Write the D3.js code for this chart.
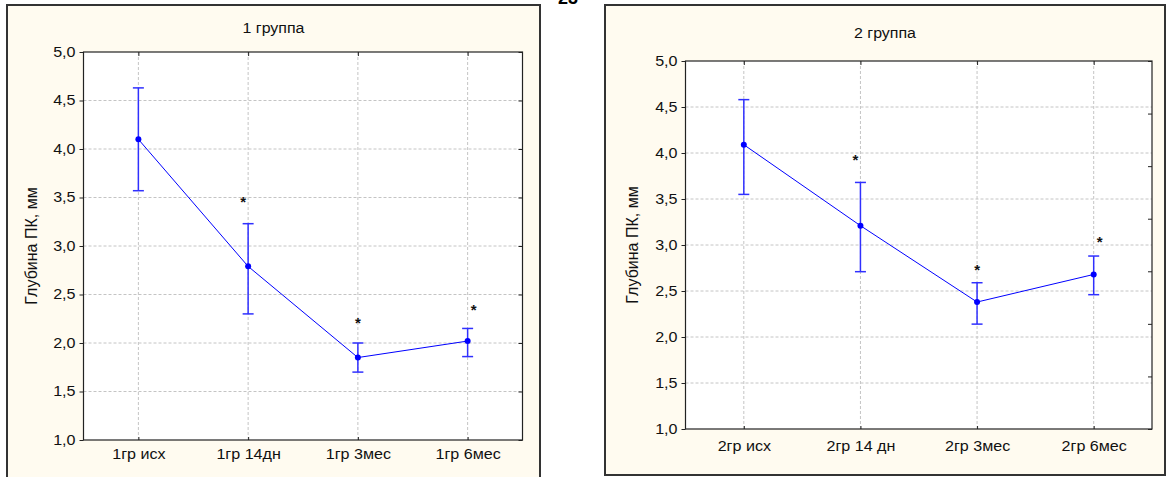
<!DOCTYPE html>
<html>

<head>
    <meta charset="utf-8">
    <title></title>
    <style>
        body { margin: 0; background: #fff; }
        svg { display: block; font-family: "Liberation Sans", Arial, sans-serif; }
    </style>
</head>

<body>
    <script src="https://d3js.org/d3.v7.min.js"></script>
    <script>

    // data
    var categories1 = ["1гр исх", "1гр 14дн", "1гр 3мес", "1гр 6мес"];
    var means1 = [4.10, 2.79, 1.85, 2.02];
    var upper1 = [4.63, 3.23, 2.00, 2.15];
    var lower1 = [3.57, 2.30, 1.70, 1.86];
    var stars1 = [null, 3.49, 2.25, 2.38];

    var categories2 = ["2гр исх", "2гр 14 дн", "2гр 3мес", "2гр 6мес"];
    var means2 = [4.09, 3.21, 2.38, 2.68];
    var upper2 = [4.58, 3.68, 2.59, 2.88];
    var lower2 = [3.55, 2.71, 2.14, 2.46];
    var stars2 = [null, 3.97, 2.77, 3.08];

    var yTicks = [1.0, 1.5, 2.0, 2.5, 3.0, 3.5, 4.0, 4.5, 5.0];
    var yDomain = [1, 5];
    var yLabel = "Глубина ПК, мм";
    var pageNumber = "23";

    var W = 1169, H = 477;
    var fmt = function(d) { return d.toFixed(1).replace(".", ","); };

    // the reference text is a little stretched sideways
    function stretch(sel, k) {
        sel.each(function() {
            var len = this.getComputedTextLength();
            d3.select(this)
                .attr("textLength", len * k)
                .attr("lengthAdjust", "spacingAndGlyphs");
        });
    }

    var svg = d3.select("body")
        .append("svg")
        .attr("width", W)
        .attr("height", H);

    // page number, mostly cut off at the top
    svg.append("text")
        .attr("x", 568)
        .attr("y", 4)
        .attr("text-anchor", "middle")
        .style("font-size", "18px")
        .style("font-weight", "bold")
        .text(pageNumber);

    var panels = [
        { title: "1 группа", cats: categories1, means: means1, upper: upper1, lower: lower1, stars: stars1,
          frame: [7, 5, 533, 480], plot: [83.5, 52, 522.5, 440], titleY: 33, labelX: 31, labelPad: 9.5, rightTicks: 0 },
        { title: "2 группа", cats: categories2, means: means2, upper: upper2, lower: lower2, stars: stars2,
          frame: [605, 5, 560, 470], plot: [685.5, 61, 1152, 429], titleY: 37.5, labelX: 632, labelPad: 12.5, rightTicks: 7 }
    ];
    var starDx = [0, -5, 0, 6];

    panels.forEach(function(p) {
        var left = p.plot[0], top = p.plot[1], right = p.plot[2], bottom = p.plot[3];
        var g = svg.append("g");

        // outer frame
        g.append("rect")
            .attr("x", p.frame[0])
            .attr("y", p.frame[1])
            .attr("width", p.frame[2])
            .attr("height", p.frame[3])
            .style("fill", "#fffbf0")
            .style("stroke", "#333")
            .style("stroke-width", 2);

        g.append("text")
            .attr("x", p.frame[0] + p.frame[2] / 2)
            .attr("y", p.titleY)
            .attr("text-anchor", "middle")
            .style("font-size", "14px")
            .style("fill", "#111")
            .text(p.title)
            .call(stretch, 1.14);

        // plot area
        g.append("rect")
            .attr("x", left)
            .attr("y", top)
            .attr("width", right - left)
            .attr("height", bottom - top)
            .style("fill", "#fff");

        var x = d3.scalePoint().domain(p.cats).range([left, right]).padding(0.5);
        var y = d3.scaleLinear().domain(yDomain).range([bottom, top]);

        // grid
        g.append("g").selectAll("line")
            .data(yTicks.slice(1, -1))
            .enter().append("line")
            .attr("x1", left).attr("x2", right)
            .attr("y1", function(d) { return y(d); })
            .attr("y2", function(d) { return y(d); })
            .style("stroke", "#c4c4c4")
            .style("stroke-dasharray", "3,2");

        g.append("g").selectAll("line")
            .data(p.cats)
            .enter().append("line")
            .attr("x1", function(d) { return x(d); })
            .attr("x2", function(d) { return x(d); })
            .attr("y1", top).attr("y2", bottom)
            .style("stroke", "#c4c4c4")
            .style("stroke-dasharray", "3,2");

        g.append("rect")
            .attr("x", left)
            .attr("y", top)
            .attr("width", right - left)
            .attr("height", bottom - top)
            .style("fill", "none")
            .style("stroke", "#222")
            .style("stroke-width", 1.2);

        // axes
        var gY = g.append("g")
            .attr("transform", "translate(" + left + ",0)")
            .call(d3.axisLeft(y).tickValues(yTicks).tickFormat(fmt).tickSize(4).tickPadding(4));

        var gX = g.append("g")
            .attr("transform", "translate(0," + bottom + ")")
            .call(d3.axisBottom(x).tickSize(-3).tickPadding(p.labelPad));

        g.append("g")
            .attr("transform", "translate(0," + top + ")")
            .call(d3.axisTop(x).tickSize(-4).tickFormat(""));

        if (p.rightTicks) {
            var r = d3.scaleLinear().domain([0, p.rightTicks]).range([bottom, top]);
            g.append("g")
                .attr("transform", "translate(" + right + ",0)")
                .call(d3.axisRight(r).tickValues(d3.range(p.rightTicks + 1)).tickSize(-4).tickFormat(""));
        } else {
            g.append("g")
                .attr("transform", "translate(" + right + ",0)")
                .call(d3.axisRight(y).tickValues(yTicks).tickSize(-4).tickFormat(""));
        }

        g.selectAll(".domain").remove();
        g.selectAll(".tick line").style("stroke", "#222");
        gY.selectAll("text").style("font-size", "14px").style("fill", "#111").call(stretch, 1.15);
        gX.selectAll("text").style("font-size", "14px").style("fill", "#111").call(stretch, 1.15);

        g.append("text")
            .attr("transform", "translate(" + p.labelX + "," + ((top + bottom) / 2) + ") rotate(-90)")
            .attr("text-anchor", "middle")
            .attr("dy", "0.35em")
            .style("font-size", "16px")
            .style("fill", "#111")
            .text(yLabel);

        // error bars
        var bars = g.append("g").selectAll("g")
            .data(p.cats)
            .enter().append("g")
            .style("stroke", "#3030ff")
            .style("stroke-width", 1.5);

        bars.append("line")
            .attr("x1", function(d) { return x(d); })
            .attr("x2", function(d) { return x(d); })
            .attr("y1", function(d, i) { return y(p.lower[i]); })
            .attr("y2", function(d, i) { return y(p.upper[i]); });

        [p.lower, p.upper].forEach(function(v) {
            bars.append("line")
                .attr("x1", function(d) { return x(d) - 5.5; })
                .attr("x2", function(d) { return x(d) + 5.5; })
                .attr("y1", function(d, i) { return y(v[i]); })
                .attr("y2", function(d, i) { return y(v[i]); });
        });

        // mean line and points
        var line = d3.line()
            .x(function(d) { return x(d); })
            .y(function(d, i) { return y(p.means[i]); });

        g.append("path")
            .datum(p.cats)
            .attr("d", line)
            .style("fill", "none")
            .style("stroke", "#0000ff")
            .style("stroke-width", 1);

        g.append("g").selectAll("circle")
            .data(p.cats)
            .enter().append("circle")
            .attr("r", 3)
            .attr("cx", function(d) { return x(d); })
            .attr("cy", function(d, i) { return y(p.means[i]); })
            .style("fill", "#0000ff");

        // significance marks
        g.append("g").selectAll("text")
            .data(p.cats.filter(function(d, i) { return p.stars[i] != null; }))
            .enter().append("text")
            .attr("x", function(d) { return x(d) + starDx[p.cats.indexOf(d)]; })
            .attr("y", function(d) { return y(p.stars[p.cats.indexOf(d)]); })
            .attr("dy", "0.6em")
            .attr("text-anchor", "middle")
            .style("font-size", "15px")
            .style("font-weight", "bold")
            .style("fill", "#111")
            .text("*");
    });

    </script>
</body>

</html>
